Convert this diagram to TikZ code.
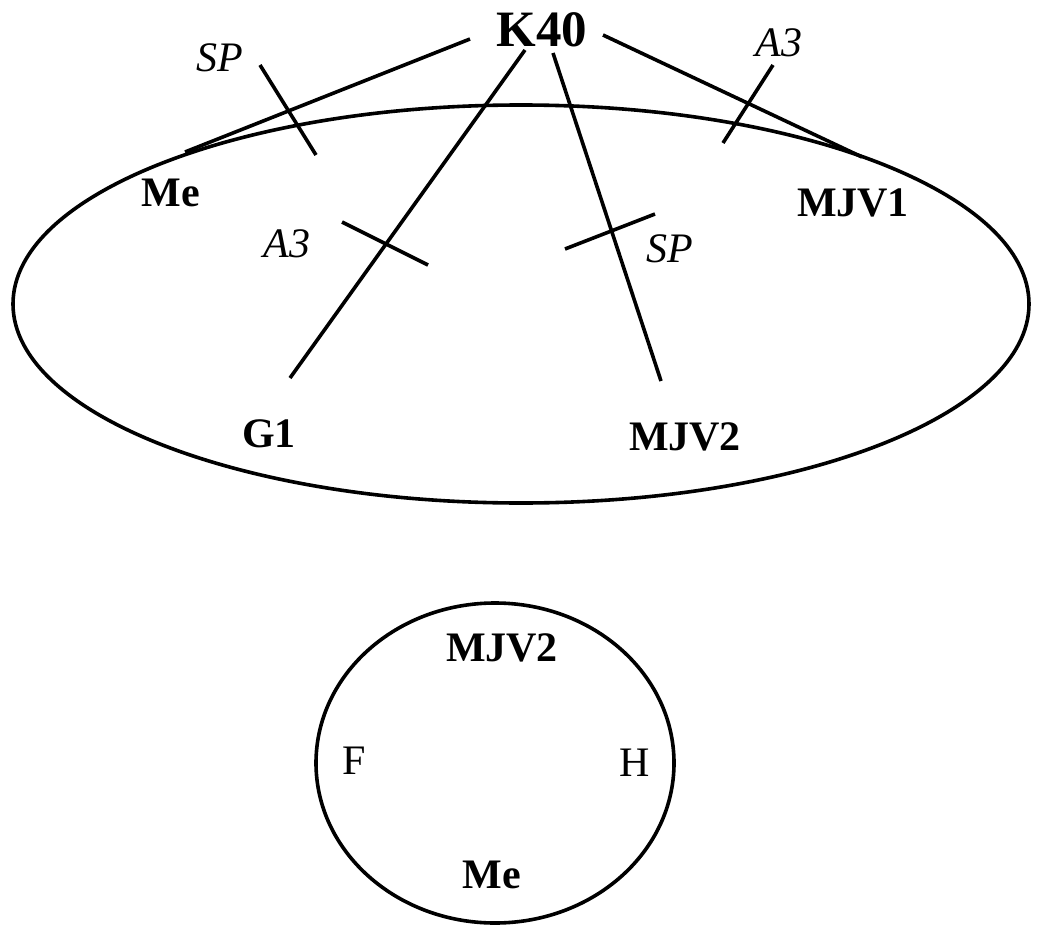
\documentclass[tikz,border=0pt]{standalone}
\usepackage{fontspec}
\setmainfont{Liberation Serif}
\begin{document}
\begin{tikzpicture}[x=1pt,y=-1pt,
  lbl/.style={font=\fontsize{42}{50}\selectfont\bfseries, inner sep=0pt},
  big/.style={font=\fontsize{51}{60}\selectfont\bfseries, inner sep=0pt},
  ital/.style={font=\fontsize{42}{50}\selectfont\itshape, inner sep=0pt},
  plain/.style={font=\fontsize{42}{50}\selectfont, inner sep=0pt},
  conn/.style={line width=3.6pt},
  tick/.style={line width=3.6pt},
  ring/.style={line width=3.6pt}]
\useasboundingbox (0,0) rectangle (1042,926);
% big ellipse
\draw[ring] (521,304) ellipse [x radius=508, y radius=199];
% small circle
\draw[ring] (495,763) ellipse [x radius=179, y radius=160];
% labels
\node[big] (k40) at (542,30) {K40};
\node[lbl] (me) at (171,193) {Me};
\node[lbl] (mjv1) at (853,203) {MJV1};
\node[lbl] (g1) at (269,434) {G1};
\node[lbl] (mjv2) at (685,437) {MJV2};
\node[ital] (sp1) at (220,58) {SP};
\node[ital] (a31) at (779,43) {A3};
\node[ital] (a32) at (287,244) {A3};
\node[ital] (sp2) at (670,249) {SP};
\node[lbl] (cmjv2) at (502,648) {MJV2};
\node[plain] (f) at (354,761) {F};
\node[plain] (h) at (635,763) {H};
\node[lbl] (cme) at (492,875) {Me};
% connector ends
\coordinate (kme) at (470,39);
\coordinate (kg1) at (525,50);
\coordinate (kmjv2) at (553,53);
\coordinate (kmjv1) at (603,35);
\coordinate (eme) at (185,152);
\coordinate (eg1) at (290,378);
\coordinate (emjv2) at (661,381);
\coordinate (emjv1) at (862,157);
\draw[conn] (kme) -- (eme);
\draw[conn] (kg1) -- (eg1);
\draw[conn] (kmjv2) -- (emjv2);
\draw[conn] (kmjv1) -- (emjv1);
% ticks
\coordinate (t1a) at (260,65); \coordinate (t1b) at (316,155);
\coordinate (t2a) at (773,65); \coordinate (t2b) at (723,143);
\coordinate (t3a) at (342,222); \coordinate (t3b) at (428,265);
\coordinate (t4a) at (565,249); \coordinate (t4b) at (655,214);
\draw[tick] (t1a) -- (t1b);
\draw[tick] (t2a) -- (t2b);
\draw[tick] (t3a) -- (t3b);
\draw[tick] (t4a) -- (t4b);
\end{tikzpicture}
\end{document}
